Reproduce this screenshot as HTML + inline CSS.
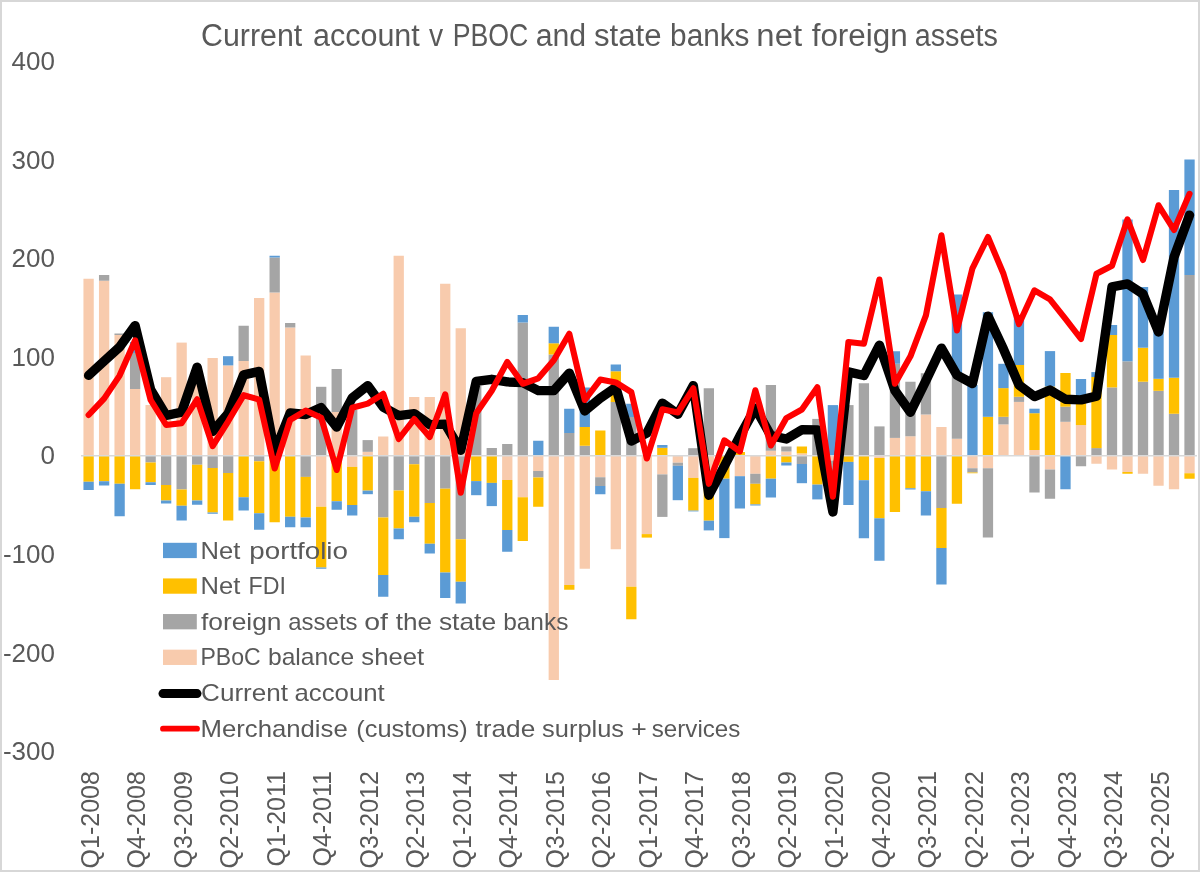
<!DOCTYPE html>
<html><head><meta charset="utf-8"><title>Current account v PBOC and state banks net foreign assets</title>
<style>
html,body{margin:0;padding:0;background:#fff;}
svg{display:block;will-change:transform;}
text{font-family:"Liberation Sans", sans-serif;fill:#595959;}
.ax{font-size:25px;}
.lg{font-size:24px;}
.tt{font-size:31px;}
</style></head><body>
<svg width="1200" height="872" viewBox="0 0 1200 872">
<rect x="0" y="0" width="1200" height="872" fill="#fff"/>
<rect x="1" y="1" width="1198" height="870" fill="none" stroke="#D7D7D7" stroke-width="2"/>
<text x="201.02" y="46.2" class="tt" textLength="101.17" lengthAdjust="spacingAndGlyphs">Current</text><text x="313.02" y="46.2" class="tt" textLength="106.77" lengthAdjust="spacingAndGlyphs">account</text><text x="429" y="46.2" class="tt" textLength="14.14" lengthAdjust="spacingAndGlyphs">v</text><text x="452.68" y="46.2" class="tt" textLength="75.56" lengthAdjust="spacingAndGlyphs">PBOC</text><text x="535.72" y="46.2" class="tt" textLength="50.47" lengthAdjust="spacingAndGlyphs">and</text><text x="594" y="46.2" class="tt" textLength="67.53" lengthAdjust="spacingAndGlyphs">state</text><text x="670.08" y="46.2" class="tt" textLength="79.42" lengthAdjust="spacingAndGlyphs">banks</text><text x="756.38" y="46.2" class="tt" textLength="45.74" lengthAdjust="spacingAndGlyphs">net</text><text x="811.7" y="46.2" class="tt" textLength="96.02" lengthAdjust="spacingAndGlyphs">foreign</text><text x="914.67" y="46.2" class="tt" textLength="83.19" lengthAdjust="spacingAndGlyphs">assets</text>
<text x="55" y="70.12" text-anchor="end" class="ax" textLength="43.39" lengthAdjust="spacingAndGlyphs">400</text>
<text x="55" y="168.69" text-anchor="end" class="ax" textLength="43.39" lengthAdjust="spacingAndGlyphs">300</text>
<text x="55" y="267.26" text-anchor="end" class="ax" textLength="43.39" lengthAdjust="spacingAndGlyphs">200</text>
<text x="55" y="365.83" text-anchor="end" class="ax" textLength="43.39" lengthAdjust="spacingAndGlyphs">100</text>
<text x="55" y="464.4" text-anchor="end" class="ax" textLength="14.46" lengthAdjust="spacingAndGlyphs">0</text>
<text x="55" y="562.97" text-anchor="end" class="ax" textLength="52.05" lengthAdjust="spacingAndGlyphs">-100</text>
<text x="55" y="661.54" text-anchor="end" class="ax" textLength="52.05" lengthAdjust="spacingAndGlyphs">-200</text>
<text x="55" y="760.11" text-anchor="end" class="ax" textLength="52.05" lengthAdjust="spacingAndGlyphs">-300</text>
<text transform="translate(98.7,771.1) rotate(-90)" text-anchor="end" class="ax">Q1-2008</text>
<text transform="translate(145.22,771.1) rotate(-90)" text-anchor="end" class="ax">Q4-2008</text>
<text transform="translate(191.74,771.1) rotate(-90)" text-anchor="end" class="ax">Q3-2009</text>
<text transform="translate(238.26,771.1) rotate(-90)" text-anchor="end" class="ax">Q2-2010</text>
<text transform="translate(284.77,771.1) rotate(-90)" text-anchor="end" class="ax">Q1-2011</text>
<text transform="translate(331.29,771.1) rotate(-90)" text-anchor="end" class="ax">Q4-2011</text>
<text transform="translate(377.81,771.1) rotate(-90)" text-anchor="end" class="ax">Q3-2012</text>
<text transform="translate(424.33,771.1) rotate(-90)" text-anchor="end" class="ax">Q2-2013</text>
<text transform="translate(470.85,771.1) rotate(-90)" text-anchor="end" class="ax">Q1-2014</text>
<text transform="translate(517.37,771.1) rotate(-90)" text-anchor="end" class="ax">Q4-2014</text>
<text transform="translate(563.88,771.1) rotate(-90)" text-anchor="end" class="ax">Q3-2015</text>
<text transform="translate(610.4,771.1) rotate(-90)" text-anchor="end" class="ax">Q2-2016</text>
<text transform="translate(656.92,771.1) rotate(-90)" text-anchor="end" class="ax">Q1-2017</text>
<text transform="translate(703.44,771.1) rotate(-90)" text-anchor="end" class="ax">Q4-2017</text>
<text transform="translate(749.96,771.1) rotate(-90)" text-anchor="end" class="ax">Q3-2018</text>
<text transform="translate(796.47,771.1) rotate(-90)" text-anchor="end" class="ax">Q2-2019</text>
<text transform="translate(842.99,771.1) rotate(-90)" text-anchor="end" class="ax">Q1-2020</text>
<text transform="translate(889.51,771.1) rotate(-90)" text-anchor="end" class="ax">Q4-2020</text>
<text transform="translate(936.03,771.1) rotate(-90)" text-anchor="end" class="ax">Q3-2021</text>
<text transform="translate(982.55,771.1) rotate(-90)" text-anchor="end" class="ax">Q2-2022</text>
<text transform="translate(1029.06,771.1) rotate(-90)" text-anchor="end" class="ax">Q1-2023</text>
<text transform="translate(1075.58,771.1) rotate(-90)" text-anchor="end" class="ax">Q4-2023</text>
<text transform="translate(1122.1,771.1) rotate(-90)" text-anchor="end" class="ax">Q3-2024</text>
<text transform="translate(1168.62,771.1) rotate(-90)" text-anchor="end" class="ax">Q2-2025</text>
<g>
<rect x="83.45" y="278.75" width="10.3" height="177" fill="#F8CBAD"/>
<rect x="83.45" y="455.75" width="10.3" height="26" fill="#FFC000"/>
<rect x="83.45" y="481.75" width="10.3" height="8.25" fill="#5B9BD5"/>
<rect x="98.96" y="280.75" width="10.3" height="175" fill="#F8CBAD"/>
<rect x="98.96" y="275" width="10.3" height="5.75" fill="#A5A5A5"/>
<rect x="98.96" y="455.75" width="10.3" height="25.5" fill="#FFC000"/>
<rect x="98.96" y="481.25" width="10.3" height="4.25" fill="#5B9BD5"/>
<rect x="114.46" y="335" width="10.3" height="120.75" fill="#F8CBAD"/>
<rect x="114.46" y="333.5" width="10.3" height="1.5" fill="#A5A5A5"/>
<rect x="114.46" y="455.75" width="10.3" height="28" fill="#FFC000"/>
<rect x="114.46" y="483.75" width="10.3" height="32.5" fill="#5B9BD5"/>
<rect x="129.97" y="389" width="10.3" height="66.75" fill="#F8CBAD"/>
<rect x="129.97" y="353" width="10.3" height="36" fill="#A5A5A5"/>
<rect x="129.97" y="342" width="10.3" height="11" fill="#5B9BD5"/>
<rect x="129.97" y="455.75" width="10.3" height="33.5" fill="#FFC000"/>
<rect x="145.48" y="405" width="10.3" height="50.75" fill="#F8CBAD"/>
<rect x="145.48" y="455.75" width="10.3" height="6.75" fill="#A5A5A5"/>
<rect x="145.48" y="462.5" width="10.3" height="19.75" fill="#FFC000"/>
<rect x="145.48" y="482.25" width="10.3" height="2.75" fill="#5B9BD5"/>
<rect x="160.98" y="377.2" width="10.3" height="78.55" fill="#F8CBAD"/>
<rect x="160.98" y="455.75" width="10.3" height="29.25" fill="#A5A5A5"/>
<rect x="160.98" y="485" width="10.3" height="15.5" fill="#FFC000"/>
<rect x="160.98" y="500.5" width="10.3" height="3" fill="#5B9BD5"/>
<rect x="176.49" y="342.6" width="10.3" height="113.15" fill="#F8CBAD"/>
<rect x="176.49" y="455.75" width="10.3" height="33.75" fill="#A5A5A5"/>
<rect x="176.49" y="489.5" width="10.3" height="16.25" fill="#FFC000"/>
<rect x="176.49" y="505.75" width="10.3" height="14.75" fill="#5B9BD5"/>
<rect x="191.99" y="370" width="10.3" height="85.75" fill="#F8CBAD"/>
<rect x="191.99" y="455.75" width="10.3" height="9" fill="#A5A5A5"/>
<rect x="191.99" y="464.75" width="10.3" height="35.75" fill="#FFC000"/>
<rect x="191.99" y="500.5" width="10.3" height="4.25" fill="#5B9BD5"/>
<rect x="207.5" y="358" width="10.3" height="97.75" fill="#F8CBAD"/>
<rect x="207.5" y="455.75" width="10.3" height="12.25" fill="#A5A5A5"/>
<rect x="207.5" y="468" width="10.3" height="44.5" fill="#FFC000"/>
<rect x="207.5" y="512.5" width="10.3" height="1.25" fill="#5B9BD5"/>
<rect x="223.01" y="365.4" width="10.3" height="90.35" fill="#F8CBAD"/>
<rect x="223.01" y="356.2" width="10.3" height="9.2" fill="#5B9BD5"/>
<rect x="223.01" y="455.75" width="10.3" height="17.25" fill="#A5A5A5"/>
<rect x="223.01" y="473" width="10.3" height="47.5" fill="#FFC000"/>
<rect x="238.51" y="361" width="10.3" height="94.75" fill="#F8CBAD"/>
<rect x="238.51" y="325.75" width="10.3" height="35.25" fill="#A5A5A5"/>
<rect x="238.51" y="455.75" width="10.3" height="41.5" fill="#FFC000"/>
<rect x="238.51" y="497.25" width="10.3" height="13.25" fill="#5B9BD5"/>
<rect x="254.02" y="298" width="10.3" height="157.75" fill="#F8CBAD"/>
<rect x="254.02" y="455.75" width="10.3" height="5.55" fill="#A5A5A5"/>
<rect x="254.02" y="461.3" width="10.3" height="51.95" fill="#FFC000"/>
<rect x="254.02" y="513.25" width="10.3" height="16.5" fill="#5B9BD5"/>
<rect x="269.52" y="292.5" width="10.3" height="163.25" fill="#F8CBAD"/>
<rect x="269.52" y="257.5" width="10.3" height="35" fill="#A5A5A5"/>
<rect x="269.52" y="255.75" width="10.3" height="1.75" fill="#5B9BD5"/>
<rect x="269.52" y="455.75" width="10.3" height="66.5" fill="#FFC000"/>
<rect x="285.03" y="327.5" width="10.3" height="128.25" fill="#F8CBAD"/>
<rect x="285.03" y="323" width="10.3" height="4.5" fill="#A5A5A5"/>
<rect x="285.03" y="455.75" width="10.3" height="61" fill="#FFC000"/>
<rect x="285.03" y="516.75" width="10.3" height="10.5" fill="#5B9BD5"/>
<rect x="300.54" y="355.5" width="10.3" height="100.25" fill="#F8CBAD"/>
<rect x="300.54" y="455.75" width="10.3" height="21.15" fill="#A5A5A5"/>
<rect x="300.54" y="476.9" width="10.3" height="40.6" fill="#FFC000"/>
<rect x="300.54" y="517.5" width="10.3" height="9.75" fill="#5B9BD5"/>
<rect x="316.04" y="386.8" width="10.3" height="68.95" fill="#A5A5A5"/>
<rect x="316.04" y="455.75" width="10.3" height="51" fill="#F8CBAD"/>
<rect x="316.04" y="506.75" width="10.3" height="60.75" fill="#FFC000"/>
<rect x="316.04" y="567.5" width="10.3" height="1.25" fill="#5B9BD5"/>
<rect x="331.55" y="412" width="10.3" height="43.75" fill="#F8CBAD"/>
<rect x="331.55" y="369" width="10.3" height="43" fill="#A5A5A5"/>
<rect x="331.55" y="455.75" width="10.3" height="45.5" fill="#FFC000"/>
<rect x="331.55" y="501.25" width="10.3" height="8.5" fill="#5B9BD5"/>
<rect x="347.06" y="410" width="10.3" height="45.75" fill="#A5A5A5"/>
<rect x="347.06" y="455.75" width="10.3" height="11.15" fill="#F8CBAD"/>
<rect x="347.06" y="466.9" width="10.3" height="38.1" fill="#FFC000"/>
<rect x="347.06" y="505" width="10.3" height="10.5" fill="#5B9BD5"/>
<rect x="362.56" y="451.8" width="10.3" height="3.95" fill="#F8CBAD"/>
<rect x="362.56" y="440.1" width="10.3" height="11.7" fill="#A5A5A5"/>
<rect x="362.56" y="455.75" width="10.3" height="34.85" fill="#FFC000"/>
<rect x="362.56" y="490.6" width="10.3" height="3.6" fill="#5B9BD5"/>
<rect x="378.07" y="436.5" width="10.3" height="19.25" fill="#F8CBAD"/>
<rect x="378.07" y="455.75" width="10.3" height="61.75" fill="#A5A5A5"/>
<rect x="378.07" y="517.5" width="10.3" height="57.5" fill="#FFC000"/>
<rect x="378.07" y="575" width="10.3" height="21.75" fill="#5B9BD5"/>
<rect x="393.57" y="255.75" width="10.3" height="200" fill="#F8CBAD"/>
<rect x="393.57" y="455.75" width="10.3" height="34.75" fill="#A5A5A5"/>
<rect x="393.57" y="490.5" width="10.3" height="38" fill="#FFC000"/>
<rect x="393.57" y="528.5" width="10.3" height="10.75" fill="#5B9BD5"/>
<rect x="409.08" y="397" width="10.3" height="58.75" fill="#F8CBAD"/>
<rect x="409.08" y="455.75" width="10.3" height="8.5" fill="#A5A5A5"/>
<rect x="409.08" y="464.25" width="10.3" height="52.5" fill="#FFC000"/>
<rect x="409.08" y="516.75" width="10.3" height="5.5" fill="#5B9BD5"/>
<rect x="424.59" y="397" width="10.3" height="58.75" fill="#F8CBAD"/>
<rect x="424.59" y="455.75" width="10.3" height="47.25" fill="#A5A5A5"/>
<rect x="424.59" y="503" width="10.3" height="40.75" fill="#FFC000"/>
<rect x="424.59" y="543.75" width="10.3" height="9.75" fill="#5B9BD5"/>
<rect x="440.09" y="283.75" width="10.3" height="172" fill="#F8CBAD"/>
<rect x="440.09" y="455.75" width="10.3" height="32.95" fill="#A5A5A5"/>
<rect x="440.09" y="488.7" width="10.3" height="83.8" fill="#FFC000"/>
<rect x="440.09" y="572.5" width="10.3" height="25.5" fill="#5B9BD5"/>
<rect x="455.6" y="328.25" width="10.3" height="127.5" fill="#F8CBAD"/>
<rect x="455.6" y="455.75" width="10.3" height="83.5" fill="#A5A5A5"/>
<rect x="455.6" y="539.25" width="10.3" height="42.5" fill="#FFC000"/>
<rect x="455.6" y="581.75" width="10.3" height="21.75" fill="#5B9BD5"/>
<rect x="471.1" y="386" width="10.3" height="69.75" fill="#A5A5A5"/>
<rect x="471.1" y="455.75" width="10.3" height="25.35" fill="#FFC000"/>
<rect x="471.1" y="481.1" width="10.3" height="14.1" fill="#5B9BD5"/>
<rect x="486.61" y="448" width="10.3" height="7.75" fill="#A5A5A5"/>
<rect x="486.61" y="455.75" width="10.3" height="27.15" fill="#FFC000"/>
<rect x="486.61" y="482.9" width="10.3" height="23.2" fill="#5B9BD5"/>
<rect x="502.12" y="444" width="10.3" height="11.75" fill="#A5A5A5"/>
<rect x="502.12" y="455.75" width="10.3" height="24.25" fill="#F8CBAD"/>
<rect x="502.12" y="480" width="10.3" height="50" fill="#FFC000"/>
<rect x="502.12" y="530" width="10.3" height="21.75" fill="#5B9BD5"/>
<rect x="517.62" y="322.5" width="10.3" height="133.25" fill="#A5A5A5"/>
<rect x="517.62" y="315" width="10.3" height="7.5" fill="#5B9BD5"/>
<rect x="517.62" y="455.75" width="10.3" height="41.5" fill="#F8CBAD"/>
<rect x="517.62" y="497.25" width="10.3" height="43.75" fill="#FFC000"/>
<rect x="533.13" y="440.75" width="10.3" height="15" fill="#5B9BD5"/>
<rect x="533.13" y="455.75" width="10.3" height="15.25" fill="#F8CBAD"/>
<rect x="533.13" y="471" width="10.3" height="6.5" fill="#A5A5A5"/>
<rect x="533.13" y="477.5" width="10.3" height="29.25" fill="#FFC000"/>
<rect x="548.63" y="354.5" width="10.3" height="101.25" fill="#A5A5A5"/>
<rect x="548.63" y="343.25" width="10.3" height="11.25" fill="#FFC000"/>
<rect x="548.63" y="326.75" width="10.3" height="16.5" fill="#5B9BD5"/>
<rect x="548.63" y="455.75" width="10.3" height="224.25" fill="#F8CBAD"/>
<rect x="564.14" y="433" width="10.3" height="22.75" fill="#A5A5A5"/>
<rect x="564.14" y="408.75" width="10.3" height="24.25" fill="#5B9BD5"/>
<rect x="564.14" y="455.75" width="10.3" height="129.25" fill="#F8CBAD"/>
<rect x="564.14" y="585" width="10.3" height="4.75" fill="#FFC000"/>
<rect x="579.64" y="445.75" width="10.3" height="10" fill="#A5A5A5"/>
<rect x="579.64" y="427" width="10.3" height="18.75" fill="#FFC000"/>
<rect x="579.64" y="387.5" width="10.3" height="39.5" fill="#5B9BD5"/>
<rect x="579.64" y="455.75" width="10.3" height="113" fill="#F8CBAD"/>
<rect x="595.15" y="430.5" width="10.3" height="25.25" fill="#FFC000"/>
<rect x="595.15" y="455.75" width="10.3" height="21.5" fill="#F8CBAD"/>
<rect x="595.15" y="477.25" width="10.3" height="8.75" fill="#A5A5A5"/>
<rect x="595.15" y="486" width="10.3" height="8.25" fill="#5B9BD5"/>
<rect x="610.66" y="402" width="10.3" height="53.75" fill="#A5A5A5"/>
<rect x="610.66" y="371.25" width="10.3" height="30.75" fill="#FFC000"/>
<rect x="610.66" y="364.5" width="10.3" height="6.75" fill="#5B9BD5"/>
<rect x="610.66" y="455.75" width="10.3" height="93.5" fill="#F8CBAD"/>
<rect x="626.16" y="417" width="10.3" height="38.75" fill="#A5A5A5"/>
<rect x="626.16" y="403.75" width="10.3" height="13.25" fill="#5B9BD5"/>
<rect x="626.16" y="455.75" width="10.3" height="131" fill="#F8CBAD"/>
<rect x="626.16" y="586.75" width="10.3" height="32.5" fill="#FFC000"/>
<rect x="641.67" y="455.75" width="10.3" height="78.35" fill="#F8CBAD"/>
<rect x="641.67" y="534.1" width="10.3" height="3.5" fill="#FFC000"/>
<rect x="657.18" y="447.8" width="10.3" height="7.95" fill="#FFC000"/>
<rect x="657.18" y="445" width="10.3" height="2.8" fill="#5B9BD5"/>
<rect x="657.18" y="455.75" width="10.3" height="18.65" fill="#F8CBAD"/>
<rect x="657.18" y="474.4" width="10.3" height="42.5" fill="#A5A5A5"/>
<rect x="672.68" y="455.75" width="10.3" height="6.95" fill="#F8CBAD"/>
<rect x="672.68" y="462.7" width="10.3" height="3.1" fill="#A5A5A5"/>
<rect x="672.68" y="465.8" width="10.3" height="34.4" fill="#5B9BD5"/>
<rect x="688.19" y="448.2" width="10.3" height="7.55" fill="#A5A5A5"/>
<rect x="688.19" y="455.75" width="10.3" height="22.15" fill="#F8CBAD"/>
<rect x="688.19" y="477.9" width="10.3" height="32.7" fill="#FFC000"/>
<rect x="688.19" y="510.6" width="10.3" height="0.8" fill="#5B9BD5"/>
<rect x="703.69" y="388.25" width="10.3" height="67.5" fill="#A5A5A5"/>
<rect x="703.69" y="455.75" width="10.3" height="19.75" fill="#F8CBAD"/>
<rect x="703.69" y="475.5" width="10.3" height="45.2" fill="#FFC000"/>
<rect x="703.69" y="520.7" width="10.3" height="9.7" fill="#5B9BD5"/>
<rect x="719.2" y="455.75" width="10.3" height="22.95" fill="#FFC000"/>
<rect x="719.2" y="478.7" width="10.3" height="59.4" fill="#5B9BD5"/>
<rect x="734.71" y="452" width="10.3" height="3.75" fill="#FFC000"/>
<rect x="734.71" y="455.75" width="10.3" height="20.45" fill="#F8CBAD"/>
<rect x="734.71" y="476.2" width="10.3" height="32.3" fill="#5B9BD5"/>
<rect x="750.21" y="455.75" width="10.3" height="18.05" fill="#F8CBAD"/>
<rect x="750.21" y="473.8" width="10.3" height="10" fill="#A5A5A5"/>
<rect x="750.21" y="483.8" width="10.3" height="20.6" fill="#FFC000"/>
<rect x="750.21" y="504.4" width="10.3" height="1.1" fill="#5B9BD5"/>
<rect x="765.72" y="450.75" width="10.3" height="5" fill="#F8CBAD"/>
<rect x="765.72" y="385" width="10.3" height="65.75" fill="#A5A5A5"/>
<rect x="765.72" y="455.75" width="10.3" height="22.95" fill="#FFC000"/>
<rect x="765.72" y="478.7" width="10.3" height="18.8" fill="#5B9BD5"/>
<rect x="781.22" y="451.5" width="10.3" height="4.25" fill="#F8CBAD"/>
<rect x="781.22" y="446.5" width="10.3" height="5" fill="#A5A5A5"/>
<rect x="781.22" y="455.75" width="10.3" height="6.75" fill="#FFC000"/>
<rect x="781.22" y="462.5" width="10.3" height="3" fill="#5B9BD5"/>
<rect x="796.73" y="453.4" width="10.3" height="2.35" fill="#F8CBAD"/>
<rect x="796.73" y="446.5" width="10.3" height="6.9" fill="#FFC000"/>
<rect x="796.73" y="455.75" width="10.3" height="8.25" fill="#A5A5A5"/>
<rect x="796.73" y="464" width="10.3" height="19.2" fill="#5B9BD5"/>
<rect x="812.24" y="418.9" width="10.3" height="36.85" fill="#A5A5A5"/>
<rect x="812.24" y="455.75" width="10.3" height="28.85" fill="#FFC000"/>
<rect x="812.24" y="484.6" width="10.3" height="14.8" fill="#5B9BD5"/>
<rect x="827.74" y="405.1" width="10.3" height="50.65" fill="#5B9BD5"/>
<rect x="827.74" y="455.75" width="10.3" height="4.85" fill="#F8CBAD"/>
<rect x="827.74" y="460.6" width="10.3" height="14.4" fill="#A5A5A5"/>
<rect x="843.25" y="405.1" width="10.3" height="50.65" fill="#A5A5A5"/>
<rect x="843.25" y="455.75" width="10.3" height="6.15" fill="#FFC000"/>
<rect x="843.25" y="461.9" width="10.3" height="43.1" fill="#5B9BD5"/>
<rect x="858.75" y="383.25" width="10.3" height="72.5" fill="#A5A5A5"/>
<rect x="858.75" y="455.75" width="10.3" height="24.45" fill="#FFC000"/>
<rect x="858.75" y="480.2" width="10.3" height="58.05" fill="#5B9BD5"/>
<rect x="874.26" y="426.4" width="10.3" height="29.35" fill="#A5A5A5"/>
<rect x="874.26" y="455.75" width="10.3" height="2.25" fill="#F8CBAD"/>
<rect x="874.26" y="458" width="10.3" height="60.3" fill="#FFC000"/>
<rect x="874.26" y="518.3" width="10.3" height="42.45" fill="#5B9BD5"/>
<rect x="889.77" y="437.9" width="10.3" height="17.85" fill="#F8CBAD"/>
<rect x="889.77" y="363.75" width="10.3" height="74.15" fill="#A5A5A5"/>
<rect x="889.77" y="351.25" width="10.3" height="12.5" fill="#5B9BD5"/>
<rect x="889.77" y="455.75" width="10.3" height="56.25" fill="#FFC000"/>
<rect x="905.27" y="436.25" width="10.3" height="19.5" fill="#F8CBAD"/>
<rect x="905.27" y="381.75" width="10.3" height="54.5" fill="#A5A5A5"/>
<rect x="905.27" y="455.75" width="10.3" height="32.5" fill="#FFC000"/>
<rect x="905.27" y="488.25" width="10.3" height="1.25" fill="#5B9BD5"/>
<rect x="920.78" y="414.5" width="10.3" height="41.25" fill="#F8CBAD"/>
<rect x="920.78" y="373.25" width="10.3" height="41.25" fill="#A5A5A5"/>
<rect x="920.78" y="455.75" width="10.3" height="35.5" fill="#FFC000"/>
<rect x="920.78" y="491.25" width="10.3" height="24.25" fill="#5B9BD5"/>
<rect x="936.28" y="427" width="10.3" height="28.75" fill="#F8CBAD"/>
<rect x="936.28" y="455.75" width="10.3" height="52.25" fill="#A5A5A5"/>
<rect x="936.28" y="508" width="10.3" height="40" fill="#FFC000"/>
<rect x="936.28" y="548" width="10.3" height="36.5" fill="#5B9BD5"/>
<rect x="951.79" y="438.75" width="10.3" height="17" fill="#F8CBAD"/>
<rect x="951.79" y="376" width="10.3" height="62.75" fill="#A5A5A5"/>
<rect x="951.79" y="294.5" width="10.3" height="81.5" fill="#5B9BD5"/>
<rect x="951.79" y="455.75" width="10.3" height="48" fill="#FFC000"/>
<rect x="967.3" y="385" width="10.3" height="70.75" fill="#5B9BD5"/>
<rect x="967.3" y="455.75" width="10.3" height="12.5" fill="#F8CBAD"/>
<rect x="967.3" y="468.25" width="10.3" height="4.25" fill="#A5A5A5"/>
<rect x="967.3" y="472.5" width="10.3" height="0.75" fill="#FFC000"/>
<rect x="982.8" y="416.8" width="10.3" height="38.95" fill="#FFC000"/>
<rect x="982.8" y="312.2" width="10.3" height="104.6" fill="#5B9BD5"/>
<rect x="982.8" y="455.75" width="10.3" height="12.5" fill="#F8CBAD"/>
<rect x="982.8" y="468.25" width="10.3" height="69.25" fill="#A5A5A5"/>
<rect x="998.31" y="424.4" width="10.3" height="31.35" fill="#F8CBAD"/>
<rect x="998.31" y="416.8" width="10.3" height="7.6" fill="#A5A5A5"/>
<rect x="998.31" y="388.1" width="10.3" height="28.7" fill="#FFC000"/>
<rect x="998.31" y="363.8" width="10.3" height="24.3" fill="#5B9BD5"/>
<rect x="1013.81" y="401.9" width="10.3" height="53.85" fill="#F8CBAD"/>
<rect x="1013.81" y="396.8" width="10.3" height="5.1" fill="#A5A5A5"/>
<rect x="1013.81" y="365" width="10.3" height="31.8" fill="#FFC000"/>
<rect x="1013.81" y="315.2" width="10.3" height="49.8" fill="#5B9BD5"/>
<rect x="1029.32" y="450" width="10.3" height="5.75" fill="#F8CBAD"/>
<rect x="1029.32" y="413.2" width="10.3" height="36.8" fill="#FFC000"/>
<rect x="1029.32" y="408.7" width="10.3" height="4.5" fill="#5B9BD5"/>
<rect x="1029.32" y="455.75" width="10.3" height="36.75" fill="#A5A5A5"/>
<rect x="1044.82" y="386.5" width="10.3" height="69.25" fill="#FFC000"/>
<rect x="1044.82" y="351.1" width="10.3" height="35.4" fill="#5B9BD5"/>
<rect x="1044.82" y="455.75" width="10.3" height="13.75" fill="#F8CBAD"/>
<rect x="1044.82" y="469.5" width="10.3" height="29.25" fill="#A5A5A5"/>
<rect x="1060.33" y="421.8" width="10.3" height="33.95" fill="#F8CBAD"/>
<rect x="1060.33" y="406.7" width="10.3" height="15.1" fill="#A5A5A5"/>
<rect x="1060.33" y="373" width="10.3" height="33.7" fill="#FFC000"/>
<rect x="1060.33" y="455.75" width="10.3" height="33.5" fill="#5B9BD5"/>
<rect x="1075.84" y="425.1" width="10.3" height="30.65" fill="#F8CBAD"/>
<rect x="1075.84" y="397" width="10.3" height="28.1" fill="#FFC000"/>
<rect x="1075.84" y="379" width="10.3" height="18" fill="#5B9BD5"/>
<rect x="1075.84" y="455.75" width="10.3" height="10.5" fill="#A5A5A5"/>
<rect x="1091.34" y="448.1" width="10.3" height="7.65" fill="#A5A5A5"/>
<rect x="1091.34" y="377" width="10.3" height="71.1" fill="#FFC000"/>
<rect x="1091.34" y="372.1" width="10.3" height="4.9" fill="#5B9BD5"/>
<rect x="1091.34" y="455.75" width="10.3" height="8" fill="#F8CBAD"/>
<rect x="1106.85" y="387.4" width="10.3" height="68.35" fill="#A5A5A5"/>
<rect x="1106.85" y="335" width="10.3" height="52.4" fill="#FFC000"/>
<rect x="1106.85" y="325" width="10.3" height="10" fill="#5B9BD5"/>
<rect x="1106.85" y="455.75" width="10.3" height="13.75" fill="#F8CBAD"/>
<rect x="1122.35" y="361.3" width="10.3" height="94.45" fill="#A5A5A5"/>
<rect x="1122.35" y="219.5" width="10.3" height="141.8" fill="#5B9BD5"/>
<rect x="1122.35" y="455.75" width="10.3" height="16.25" fill="#F8CBAD"/>
<rect x="1122.35" y="472" width="10.3" height="1.75" fill="#FFC000"/>
<rect x="1137.86" y="381.7" width="10.3" height="74.05" fill="#A5A5A5"/>
<rect x="1137.86" y="347.7" width="10.3" height="34" fill="#FFC000"/>
<rect x="1137.86" y="287" width="10.3" height="60.7" fill="#5B9BD5"/>
<rect x="1137.86" y="455.75" width="10.3" height="18" fill="#F8CBAD"/>
<rect x="1153.37" y="390.8" width="10.3" height="64.95" fill="#A5A5A5"/>
<rect x="1153.37" y="378.8" width="10.3" height="12" fill="#FFC000"/>
<rect x="1153.37" y="325" width="10.3" height="53.8" fill="#5B9BD5"/>
<rect x="1153.37" y="455.75" width="10.3" height="30" fill="#F8CBAD"/>
<rect x="1168.87" y="413.75" width="10.3" height="42" fill="#A5A5A5"/>
<rect x="1168.87" y="377.7" width="10.3" height="36.05" fill="#FFC000"/>
<rect x="1168.87" y="190" width="10.3" height="187.7" fill="#5B9BD5"/>
<rect x="1168.87" y="455.75" width="10.3" height="33.5" fill="#F8CBAD"/>
<rect x="1184.38" y="275" width="10.3" height="180.75" fill="#A5A5A5"/>
<rect x="1184.38" y="159.5" width="10.3" height="115.5" fill="#5B9BD5"/>
<rect x="1184.38" y="455.75" width="10.3" height="17.5" fill="#F8CBAD"/>
<rect x="1184.38" y="473.25" width="10.3" height="5.5" fill="#FFC000"/>
</g>
<line x1="81" y1="455.75" x2="1197" y2="455.75" stroke="#D9D9D9" stroke-width="1.5"/>
<rect x="163" y="542.8" width="33.8" height="15.3" fill="#5B9BD5"/>
<text x="200.57" y="558.6" class="lg" textLength="39.75" lengthAdjust="spacingAndGlyphs">Net</text><text x="249.35" y="558.6" class="lg" textLength="98.61" lengthAdjust="spacingAndGlyphs">portfolio</text>
<rect x="163" y="578.42" width="33.8" height="15.3" fill="#FFC000"/>
<text x="200.57" y="594.22" class="lg" textLength="39.75" lengthAdjust="spacingAndGlyphs">Net</text><text x="248.57" y="594.22" class="lg" textLength="37.35" lengthAdjust="spacingAndGlyphs">FDI</text>
<rect x="163" y="614.04" width="33.8" height="15.3" fill="#A5A5A5"/>
<text x="200.9" y="629.84" class="lg" textLength="80.63" lengthAdjust="spacingAndGlyphs">foreign</text><text x="288.3" y="629.84" class="lg" textLength="69.27" lengthAdjust="spacingAndGlyphs">assets</text><text x="364.32" y="629.84" class="lg" textLength="23.7" lengthAdjust="spacingAndGlyphs">of</text><text x="395.8" y="629.84" class="lg" textLength="36.31" lengthAdjust="spacingAndGlyphs">the</text><text x="438.9" y="629.84" class="lg" textLength="57.23" lengthAdjust="spacingAndGlyphs">state</text><text x="503.18" y="629.84" class="lg" textLength="65.17" lengthAdjust="spacingAndGlyphs">banks</text>
<rect x="163" y="649.66" width="33.8" height="15.3" fill="#F8CBAD"/>
<text x="200.48" y="665.46" class="lg" textLength="60.19" lengthAdjust="spacingAndGlyphs">PBoC</text><text x="267.98" y="665.46" class="lg" textLength="86.13" lengthAdjust="spacingAndGlyphs">balance</text><text x="361.33" y="665.46" class="lg" textLength="62.77" lengthAdjust="spacingAndGlyphs">sheet</text>
<line x1="163" y1="693.58" x2="197" y2="693.58" stroke="#000" stroke-width="9" stroke-linecap="round"/>
<text x="201.11" y="701.08" class="lg" textLength="86.92" lengthAdjust="spacingAndGlyphs">Current</text><text x="294.43" y="701.08" class="lg" textLength="90.34" lengthAdjust="spacingAndGlyphs">account</text>
<line x1="163" y1="728.7" x2="197" y2="728.7" stroke="#f00" stroke-width="5.8" stroke-linecap="round"/>
<text x="200.56" y="736.7" class="lg" textLength="147.18" lengthAdjust="spacingAndGlyphs">Merchandise</text><text x="356.34" y="736.7" class="lg" textLength="111.38" lengthAdjust="spacingAndGlyphs">(customs)</text><text x="475.5" y="736.7" class="lg" textLength="59.77" lengthAdjust="spacingAndGlyphs">trade</text><text x="542.14" y="736.7" class="lg" textLength="81.96" lengthAdjust="spacingAndGlyphs">surplus</text><text x="631.39" y="736.7" class="lg" textLength="15.53" lengthAdjust="spacingAndGlyphs">+</text><text x="651.79" y="736.7" class="lg" textLength="88.54" lengthAdjust="spacingAndGlyphs">services</text>
<polyline points="88.6,375.4 104.11,361.1 119.61,347.1 135.12,325.6 150.63,389.6 166.13,415.5 181.64,412.1 197.14,367.1 212.65,431.4 228.16,413.6 243.66,374.8 259.17,371.4 274.67,452 290.18,413 305.69,414.5 321.19,407.6 336.7,427 352.21,397.9 367.71,385.6 383.22,407.1 398.72,415.6 414.23,413.6 429.74,424.6 445.24,424.1 460.75,450.3 476.25,381.4 491.76,379.3 507.26,381.9 522.77,382.6 538.28,390.6 553.78,390.6 569.29,373.1 584.79,411 600.3,398.2 615.81,387.3 631.31,441 646.82,433.1 662.33,403.2 677.83,414.2 693.34,385.6 708.84,495.2 724.35,466.1 739.86,436.1 755.36,408.1 770.87,435.6 786.37,439 801.88,429.7 817.38,429.9 832.89,512 848.4,371.9 863.9,375.5 879.41,345.1 894.92,390.6 910.42,412.3 925.93,380.6 941.43,348.1 956.94,375.1 972.45,383.5 987.95,316.1 1003.46,349.1 1018.96,384.9 1034.47,396.6 1049.97,390.1 1065.48,399.2 1080.99,399.9 1096.49,396.1 1112,286.8 1127.5,283.9 1143.01,294 1158.52,332 1174.02,257.1 1189.53,215.1" fill="none" stroke="#000" stroke-width="9.4" stroke-linejoin="round" stroke-linecap="round"/>
<polyline points="88.6,415 104.11,398.6 119.61,375.6 135.12,340.3 150.63,400 166.13,425 181.64,423.1 197.14,399.3 212.65,446.1 228.16,421.3 243.66,395.2 259.17,399.6 274.67,468.5 290.18,419.8 305.69,410.6 321.19,417.8 336.7,470 352.21,407.7 367.71,403.6 383.22,393.8 398.72,439 414.23,419.1 429.74,437 445.24,394.3 460.75,492.7 476.25,413.2 491.76,390.8 507.26,362.05 522.77,383.75 538.28,378.3 553.78,360.3 569.29,333.8 584.79,400 600.3,379.6 615.81,382.4 631.31,392.1 646.82,458.5 662.33,409.3 677.83,412.5 693.34,388.3 708.84,483.8 724.35,440.3 739.86,451.4 755.36,390.3 770.87,445.5 786.37,418.1 801.88,409.5 817.38,387.3 832.89,496.8 848.4,342.05 863.9,343.8 879.41,279.55 894.92,383.75 910.42,356.3 925.93,315.3 941.43,235.3 956.94,330.5 972.45,268.3 987.95,237.05 1003.46,273.8 1018.96,324 1034.47,290.3 1049.97,299.3 1065.48,318.8 1080.99,339 1096.49,273.8 1112,265.8 1127.5,219.3 1143.01,260 1158.52,205.3 1174.02,230 1189.53,193.8" fill="none" stroke="#f00" stroke-width="6.1" stroke-linejoin="round" stroke-linecap="round"/>
</svg>
</body></html>
